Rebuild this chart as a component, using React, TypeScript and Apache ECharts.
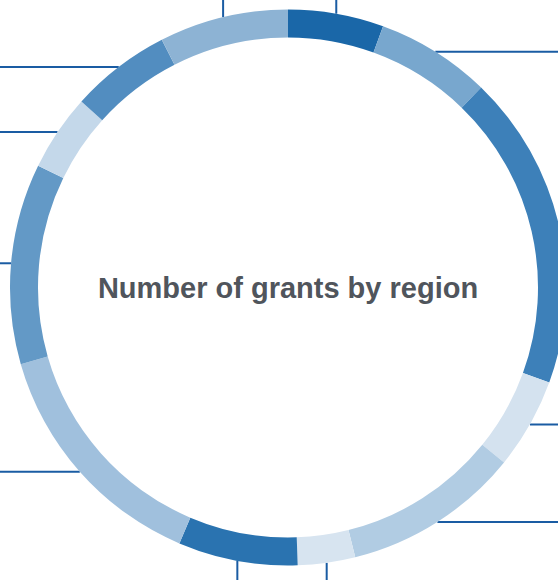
import React, { useEffect, useRef } from "react";
import * as echarts from "echarts";

// ---- data ----
const regions = [
  "Region 1", "Region 2", "Region 3", "Region 4", "Region 5", "Region 6",
  "Region 7", "Region 8", "Region 9", "Region 10", "Region 11", "Region 12",
];
const grants = [20, 24, 66, 19, 37, 12, 25, 51, 42, 16, 21, 27];
const sliceColors = [
  "#1a67a8", "#78a7ce", "#3d80b9", "#d4e2ef", "#b1cce3", "#d7e4f0",
  "#2a73b0", "#a0c0dd", "#6399c6", "#c4d8ea", "#528dc0", "#8db3d4",
];
const chartTitle = "Number of grants by region";

// ---- layout ----
const W = 558;
const H = 580;
const CX = 288;
const CY = 287.5;
const R_IN = 250;
const R_OUT = 278;

export default function App() {
  const ref = useRef<HTMLDivElement>(null);

  useEffect(() => {
    if (!ref.current) return;
    const chart = echarts.init(ref.current, null, { renderer: "svg" });
    chart.setOption({
      animation: false,
      backgroundColor: "#ffffff",
      graphic: [
        {
          type: "text",
          x: CX,
          y: 288,
          z: 10,
          style: {
            text: chartTitle,
            align: "center",
            verticalAlign: "middle",
            font: 'bold 29px "Liberation Sans", Arial, sans-serif',
            fill: "#50555c",
          },
        },
      ],
      series: [
        {
          type: "pie",
          center: [CX, CY],
          radius: [R_IN, R_OUT],
          startAngle: 90,
          clockwise: true,
          silent: true,
          emphasis: { disabled: true },
          itemStyle: { borderWidth: 0 },
          data: regions.map((name, i) => ({
            name,
            value: grants[i],
            itemStyle: { color: sliceColors[i] },
          })),
          label: {
            show: true,
            position: "outside",
            formatter: () => "",
          },
          labelLine: {
            show: true,
            length: 10,
            length2: 10,
            lineStyle: { color: "#1a5ca3", width: 2 },
          },
          labelLayout: (params: any) => {
            const pts = params.labelLinePoints;
            if (!pts || !pts.length) return {};
            const x0 = pts[0][0];
            const y0 = pts[0][1];
            const dx = x0 - CX;
            const dy = y0 - CY;
            const len = Math.hypot(dx, dy) || 1;
            let end: number[];
            if (Math.abs(dx) / len < 0.35) {
              end = [x0, dy < 0 ? -20 : H + 20];
            } else {
              end = [dx < 0 ? -20 : W + 20, y0];
            }
            return { labelLinePoints: [[x0, y0], [x0, y0], end] };
          },
        },
      ],
    });
    return () => chart.dispose();
  }, []);

  return (
    <div
      ref={ref}
      style={{ position: "absolute", left: 0, top: 0, width: W, height: H }}
    />
  );
}
